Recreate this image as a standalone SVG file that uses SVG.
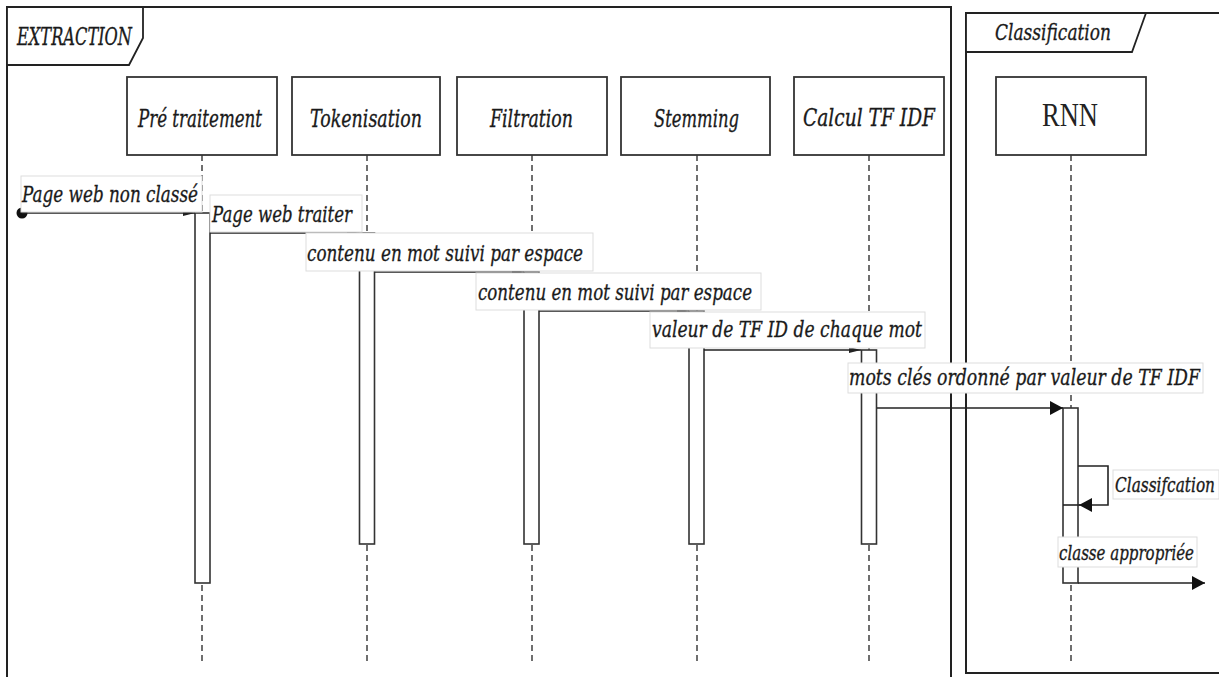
<svg xmlns="http://www.w3.org/2000/svg" width="1219" height="677" viewBox="0 0 1219 677">
<style>
.frame{fill:none;stroke:#222;stroke-width:2}
.tab{fill:#fff;stroke:#222;stroke-width:1.8}
.box{fill:#fff;stroke:#333;stroke-width:1.8}
.life{stroke:#333;stroke-width:1.4;stroke-dasharray:6 4;fill:none}
.bar{fill:#fff;stroke:#333;stroke-width:1.6}
.msg{stroke:#222;stroke-width:1.6;fill:none}
.lbl{fill:#fff;stroke:#ddd;stroke-width:1}
.t{font-family:"DejaVu Serif","Liberation Serif",serif;font-style:italic;fill:#1a1a1a;stroke:#1a1a1a;stroke-width:0.35}
.hd{font-size:25px}
.ms{font-size:23px}
</style>
<defs>
<marker id="as" viewBox="0 0 12 6" refX="12" refY="3" markerWidth="12" markerHeight="6" markerUnits="userSpaceOnUse" orient="auto"><path d="M0,0 L12,3 L0,6 z" fill="#222"/></marker>
<marker id="ab" viewBox="0 0 13 14" refX="13" refY="7" markerWidth="13" markerHeight="14" markerUnits="userSpaceOnUse" orient="auto"><path d="M0,0 L13,7 L0,14 z" fill="#111"/></marker>
</defs>

<g id="frame-extraction">
<path class="frame" d="M7,677 V7 H951 V677"/>
<path class="tab" d="M7,7 H143 V38 L129,65 H7 Z"/>
<text class="t" x="17" y="45" font-size="24" textLength="115" lengthAdjust="spacingAndGlyphs">EXTRACTION</text>
</g>
<g id="frame-classification">
<path class="frame" d="M1219,13 H966 V673 H1219"/>
<path class="tab" d="M966,13 H1146 L1132,52 H966 Z"/>
<text class="t" x="995" y="40" font-size="23" textLength="116" lengthAdjust="spacingAndGlyphs">Classification</text>
</g>

<g id="pretraitement">
<rect class="box" x="127" y="77" width="150" height="78"/>
<text class="t hd" x="138" y="127" textLength="124" lengthAdjust="spacingAndGlyphs">Pré traitement</text>
<line class="life" x1="202" y1="155" x2="202" y2="663"/>
<rect class="bar" x="195" y="213" width="15" height="370"/>
</g>
<g id="tokenisation">
<rect class="box" x="292" y="77" width="148" height="78"/>
<text class="t hd" x="310" y="127" textLength="112" lengthAdjust="spacingAndGlyphs">Tokenisation</text>
<line class="life" x1="367" y1="155" x2="367" y2="663"/>
<rect class="bar" x="359.5" y="233" width="15" height="311"/>
</g>
<g id="filtration">
<rect class="box" x="457" y="77" width="150" height="78"/>
<text class="t hd" x="490" y="127" textLength="83" lengthAdjust="spacingAndGlyphs">Filtration</text>
<line class="life" x1="532" y1="155" x2="532" y2="663"/>
<rect class="bar" x="524" y="272" width="15" height="272"/>
</g>
<g id="stemming">
<rect class="box" x="621" y="77" width="149" height="78"/>
<text class="t hd" x="654" y="127" textLength="85" lengthAdjust="spacingAndGlyphs">Stemming</text>
<line class="life" x1="697" y1="155" x2="697" y2="663"/>
<rect class="bar" x="689" y="311" width="15" height="233"/>
</g>
<g id="calcul-tfidf">
<rect class="box" x="794" y="77" width="150" height="78"/>
<text class="t hd" x="803" y="126" textLength="132" lengthAdjust="spacingAndGlyphs">Calcul TF IDF</text>
<line class="life" x1="869" y1="155" x2="869" y2="663"/>
<rect class="bar" x="861.5" y="350" width="15" height="194"/>
</g>
<g id="rnn">
<rect class="box" x="996" y="77" width="150" height="78"/>
<text x="1042" y="126" font-family="Liberation Serif, serif" font-size="33" fill="#222" textLength="56" lengthAdjust="spacingAndGlyphs">RNN</text>
<line class="life" x1="1071" y1="155" x2="1071" y2="663"/>
<rect class="bar" x="1063" y="408" width="15" height="175"/>
</g>

<g id="connectors">
<circle cx="22" cy="213" r="5.5" fill="#111"/>
<line class="msg" x1="22" y1="213" x2="195" y2="213" marker-end="url(#as)"/>
<line class="msg" x1="210" y1="233" x2="359" y2="233" marker-end="url(#as)"/>
<line class="msg" x1="375" y1="272" x2="524" y2="272" marker-end="url(#as)"/>
<line class="msg" x1="539" y1="311" x2="689" y2="311" marker-end="url(#as)"/>
<line class="msg" x1="704" y1="350" x2="861" y2="350" marker-end="url(#as)"/>
<line class="msg" x1="877" y1="408" x2="1063" y2="408" marker-end="url(#ab)"/>
<path class="msg" d="M1078,466 H1108 V505 H1079" marker-end="url(#ab)"/>
<line class="msg" x1="1063" y1="505" x2="1080" y2="505"/>
<line class="msg" x1="1078" y1="583" x2="1205" y2="583" marker-end="url(#ab)"/>
</g>

<g id="labels">
<rect class="lbl" x="21" y="176" width="181" height="36"/>
<text class="t ms" x="22" y="202" textLength="176" lengthAdjust="spacingAndGlyphs">Page web non classé</text>
<rect class="lbl" x="210" y="195" width="152" height="37"/>
<text class="t ms" x="212" y="222" textLength="140" lengthAdjust="spacingAndGlyphs">Page web traiter</text>
<rect class="lbl" x="306" y="233" width="287" height="38"/>
<text class="t ms" x="307" y="261" textLength="276" lengthAdjust="spacingAndGlyphs">contenu en mot suivi par espace</text>
<rect class="lbl" x="476" y="273" width="285" height="37"/>
<text class="t ms" x="478" y="300" textLength="274" lengthAdjust="spacingAndGlyphs">contenu en mot suivi par espace</text>
<rect class="lbl" x="650" y="312" width="275" height="36"/>
<text class="t ms" x="652" y="337" textLength="270" lengthAdjust="spacingAndGlyphs">valeur de TF ID de chaque mot</text>
<rect class="lbl" x="848" y="363" width="355" height="30"/>
<text class="t ms" x="849" y="385" textLength="351" lengthAdjust="spacingAndGlyphs">mots clés ordonné par valeur de TF IDF</text>
<rect class="lbl" x="1113" y="470" width="106" height="29"/>
<text class="t" x="1115" y="492" font-size="20" textLength="100" lengthAdjust="spacingAndGlyphs">Classifcation</text>
<rect class="lbl" x="1058" y="537" width="139" height="30"/>
<text class="t" x="1059" y="560" font-size="20" textLength="135" lengthAdjust="spacingAndGlyphs">classe appropriée</text>
</g>
</svg>
